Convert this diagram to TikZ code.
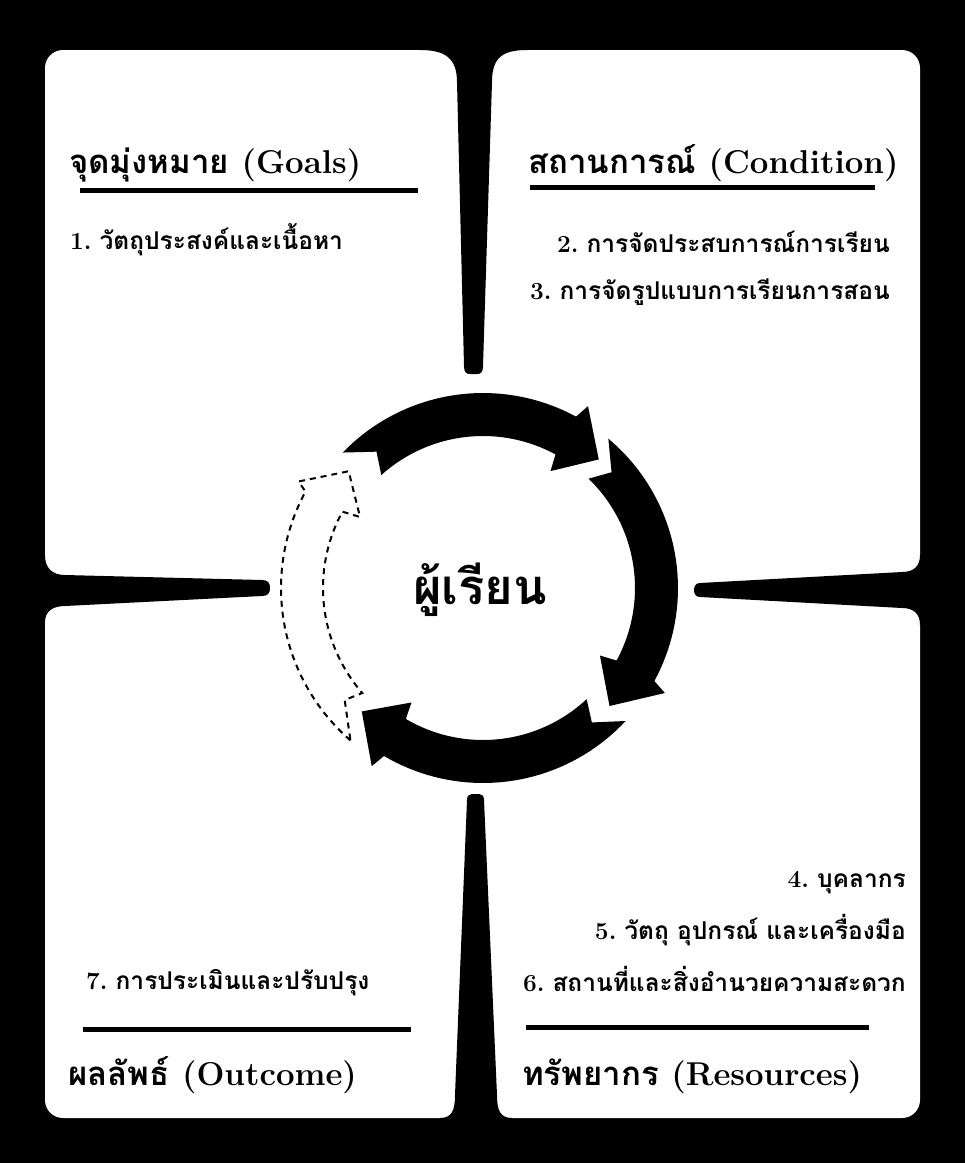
\documentclass[tikz,border=0pt]{standalone}
\usepackage{fontspec}
\newfontfamily\thai[Script=Thai]{Loma}
\usetikzlibrary{calc}
\newcommand\cycarrow[4][]{%
  \pgfmathsetmacro\cyS{#2}%
  \pgfmathsetmacro\cyE{#3-1.5}%
  \pgfmathsetmacro\cyI{#2+\cyIo}%
  \pgfmathsetmacro\cyN{#2+\cyNo}%
  \path[#1] (#2:\Ro) -- plot[domain=\cyS:\cyE, samples=40] ({\Ro*cos(\x)},{\Ro*sin(\x)})
    -- (#3:\Rbo) -- (#4:\Rm) -- (#3:\Rbi)
    -- plot[domain=\cyE:\cyI, samples=40] ({\Ri*cos(\x)},{\Ri*sin(\x)})
    -- (\cyN:\Rm) -- cycle;}
\begin{document}
\begin{tikzpicture}[x=1pt,y=-1pt,
  ttl/.style={inner sep=0pt, font=\fontsize{33}{38}\selectfont\bfseries},
  itm/.style={inner sep=0pt, font=\fontsize{24.5}{28}\selectfont\bfseries},
  uline/.style={line width=5pt},
  sep/.style={fill=black},
  solidarrow/.style={fill=black},
  dasharrow/.style={draw=black, line width=2pt, dash pattern=on 6pt off 5pt}]
\useasboundingbox (0,0) rectangle (965,1163);
\fill[black] (0,0) rectangle (965,1163);
\fill[white, rounded corners=18pt] (45,50) rectangle (920,1118);
% separators
\fill[sep] (420,40) -- (420,50) .. controls (445,50) and (457,58) .. (457,82) -- (464,366) .. controls (464,372) and (466,374) .. (470,374) -- (477,374) .. controls (481,374) and (483,372) .. (483,366) -- (492,82) .. controls (492,58) and (502,50) .. (527,50) -- (527,40) -- cycle;
\fill[sep] (440,1128) -- (440,1118) .. controls (452,1118) and (455,1110) .. (455,1095) -- (467,800) .. controls (467,796) and (469,794) .. (472,794) -- (479,794) .. controls (482,794) and (484,796) .. (484,800) -- (497,1095) .. controls (497,1110) and (500,1118) .. (512,1118) -- (512,1128) -- cycle;
\fill[sep] (35,555) -- (45,555) .. controls (45,568) and (52,575) .. (65,575) -- (262,580) .. controls (268,580) and (270,583) .. (270,588) .. controls (270,593) and (268,596) .. (262,596) -- (65,606) .. controls (52,606) and (45,612) .. (45,622) -- (35,622) -- cycle;
\fill[sep] (930,555) -- (920,555) .. controls (920,566) and (914,572) .. (902,572) -- (700,583) .. controls (696,583) and (694,586) .. (694,590) .. controls (694,594) and (696,597) .. (700,597) -- (902,608) .. controls (914,608) and (920,614) .. (920,625) -- (930,625) -- cycle;
% cycle arrows
\begin{scope}[shift={(483,588)}]
  \def\Ro{195}\def\Ri{152}\def\Rm{173}\def\Rbo{210}\def\Rbi{135}
  \def\cyIo{4}\def\cyNo{8}
  \cycarrow[solidarrow]{-136}{-60}{-48}
  \cycarrow[solidarrow]{-50}{30}{43}
  \cycarrow[solidarrow]{43}{122}{134.5}
  \def\Ro{202}\def\Ri{160}\def\Rm{178}\def\Rbo{213}\def\Rbi{142}
  \def\cyIo{8}\def\cyNo{10}
  \cycarrow[dasharrow]{131}{210}{221}
\end{scope}
\node[inner sep=0pt, font=\fontsize{49}{54}\selectfont\bfseries\thai] (learner) at (480,590) {ผู้เรียน};
% titles
\node[ttl, anchor=base west] (goals) at (69,173) {{\thai จุดมุ่งหมาย} (Goals)};
\node[ttl, anchor=base west] (cond) at (528,173) {{\thai สถานการณ์} (Condition)};
\node[ttl, anchor=base west] (outc) at (68,1085) {{\thai ผลลัพธ์} (Outcome)};
\node[ttl, anchor=base west] (res) at (522,1085) {{\thai ทรัพยากร} (Resources)};
\draw[uline] (80,190) -- (418,190);
\draw[uline] (530,187) -- (875,187);
\draw[uline] (83,1029) -- (411,1029);
\draw[uline] (526,1027) -- (869,1027);
% items
\node[itm, anchor=base west] (i1) at (70,249) {1.\hspace{8pt}{\thai วัตถุประสงค์และเนื้อหา}};
\node[itm, anchor=base east] (i2) at (890,252) {2.\hspace{8pt}{\thai การจัดประสบการณ์การเรียน}};
\node[itm, anchor=base east] (i3) at (890,299) {3.\hspace{8pt}{\thai การจัดรูปแบบการเรียนการสอน}};
\node[itm, anchor=base east] (i4) at (906,887) {4.\hspace{8pt}{\thai บุคลากร}};
\node[itm, anchor=base east] (i5) at (906,939) {5.\hspace{8pt}{\thai วัตถุ อุปกรณ์ และเครื่องมือ}};
\node[itm, anchor=base east] (i6) at (906,991) {6.\hspace{8pt}{\thai สถานที่และสิ่งอำนวยความสะดวก}};
\node[itm, anchor=base west] (i7) at (86,989) {7.\hspace{8pt}{\thai การประเมินและปรับปรุง}};
\end{tikzpicture}
\end{document}
